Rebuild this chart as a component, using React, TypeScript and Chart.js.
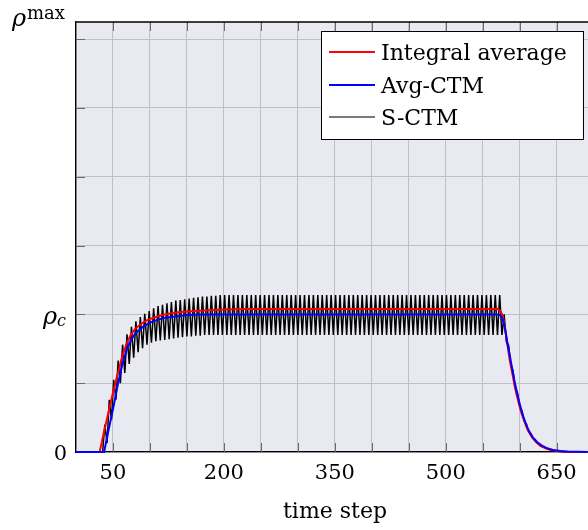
import React, { useEffect, useRef } from 'react';
import { Chart, registerables } from 'chart.js';

Chart.register(...registerables);

// ---- axis settings ----
const X_MIN = 0;
const X_MAX = 692.4;
const Y_MIN = 0;
const Y_MAX = 6.25; // rho^max
const RHO_C = 2;
const xGridValues = [0, 50, 100, 150, 200, 250, 300, 350, 400, 450, 500, 550, 600, 650];
const xTickLabels = [50, 200, 350, 500, 650];
const yGridValues = [0, 1, 2, 3, 4, 5, 6];

// ---- Integral average (red) ----
const avgTimes = [0, 32, 38, 44, 50, 56, 61, 65, 69, 74, 80, 88, 95, 102, 110, 120, 130, 145, 160, 180, 200, 230, 570, 573, 575, 577.5, 580, 582, 584, 586.5, 589, 591, 593, 595.5, 598, 600, 602, 604.5, 607, 609, 611, 613.5, 617, 622.5, 628, 636, 643, 650, 660, 675, 692];
const avgValues = [0, 0, 0.3, 0.58, 0.86, 1.12, 1.33, 1.47, 1.59, 1.7, 1.79, 1.86, 1.91, 1.94, 1.97, 2.0, 2.02, 2.04, 2.05, 2.06, 2.07, 2.08, 2.08, 2.06, 2.03, 1.96, 1.82, 1.66, 1.52, 1.34, 1.2, 1.09, 0.97, 0.85, 0.74, 0.66, 0.58, 0.5, 0.43, 0.37, 0.32, 0.27, 0.21, 0.14, 0.09, 0.05, 0.03, 0.015, 0.005, 0, 0];

// ---- Avg-CTM (blue) ----
const ctmTimes = [0, 38, 44, 50, 56, 60, 64, 69, 74, 80, 86, 92, 100, 110, 120, 135, 150, 170, 570, 573, 575, 578, 580, 582, 584, 587, 590, 593, 596, 599, 602, 605, 608, 611, 614, 618, 623, 629, 636, 645, 655, 665, 680, 692];
const ctmValues = [0, 0, 0.32, 0.62, 0.95, 1.15, 1.33, 1.5, 1.62, 1.72, 1.78, 1.83, 1.88, 1.92, 1.95, 1.97, 1.99, 2.0, 2.0, 1.99, 1.97, 1.9, 1.8, 1.68, 1.55, 1.38, 1.2, 1.03, 0.88, 0.74, 0.62, 0.51, 0.42, 0.34, 0.28, 0.21, 0.15, 0.1, 0.06, 0.03, 0.015, 0.007, 0.002, 0];

// ---- S-CTM (black), sampled every 3 time steps from t = 0 ----
const sctmStart = 0;
const sctmStep = 3;
const sctmValues = [
  0, 0, 0, 0, 0, 0, 0, 0, 0, 0, 0, 0, 0,
  0.40, 0.13, 0.76, 0.47, 1.05, 0.76, 1.33, 1.00, 1.56, 1.15, 1.71, 1.28, 1.82, 1.37,
  1.90, 1.45, 1.96, 1.51, 2.01, 1.56, 2.05, 1.59, 2.09, 1.61, 2.12, 1.62, 2.14, 1.63,
  2.16, 1.64, 2.18, 1.65, 2.20, 1.66, 2.21, 1.67, 2.22, 1.68, 2.23, 1.68, 2.24, 1.69,
  2.25, 1.69, 2.26, 1.70, 2.26, 1.70, 2.27, 1.70, 2.27, 1.70,
  2.28, 1.70, 2.28, 1.70, 2.28, 1.70, 2.28, 1.70, 2.28, 1.70, 2.28, 1.70, 2.28, 1.70, 2.28, 1.70,
  2.28, 1.70, 2.28, 1.70, 2.28, 1.70, 2.28, 1.70, 2.28, 1.70, 2.28, 1.70, 2.28, 1.70, 2.28, 1.70,
  2.28, 1.70, 2.28, 1.70, 2.28, 1.70, 2.28, 1.70, 2.28, 1.70, 2.28, 1.70, 2.28, 1.70, 2.28, 1.70,
  2.28, 1.70, 2.28, 1.70, 2.28, 1.70, 2.28, 1.70, 2.28, 1.70, 2.28, 1.70, 2.28, 1.70, 2.28, 1.70,
  2.28, 1.70, 2.28, 1.70, 2.28, 1.70, 2.28, 1.70, 2.28, 1.70, 2.28, 1.70, 2.28, 1.70, 2.28, 1.70,
  2.28, 1.70, 2.28, 1.70, 2.28, 1.70, 2.28, 1.70, 2.28, 1.70, 2.28, 1.70, 2.28, 1.70, 2.28, 1.70,
  2.28, 1.70, 2.28, 1.70, 2.28, 1.70, 2.28, 1.70, 2.28, 1.70, 2.28, 1.70, 2.28, 1.70, 2.28, 1.70,
  2.28, 1.70, 2.28, 1.70, 2.28, 1.70, 2.28, 1.70, 2.28, 1.70, 2.28, 1.70, 2.28, 1.70, 2.28, 1.70,
  2.00, 1.60, 1.55, 1.26, 1.18, 0.93, 0.86, 0.66, 0.60, 0.45, 0.41, 0.30, 0.27, 0.20, 0.18,
  0.13, 0.11, 0.08, 0.07, 0.05, 0.04, 0.03, 0.025, 0.02, 0.015, 0.01, 0.008, 0.005, 0.003,
  0, 0, 0, 0, 0, 0, 0, 0, 0,
];

const seriesLabels = ['Integral average', 'Avg-CTM', 'S-CTM'];
const seriesColors = ['#ff0000', '#0000ff', '#000000'];
const legendColors = ['#ff0000', '#0000ff', '#7a7a7a'];

const SERIF = "'DejaVu Serif', serif";

const decorPlugin = {
  id: 'decor',
  beforeDraw(chart: any) {
    const { ctx, chartArea } = chart;
    ctx.save();
    ctx.fillStyle = '#ffffff';
    ctx.fillRect(0, 0, chart.width, chart.height);
    ctx.fillStyle = 'rgb(233,233,242)';
    ctx.fillRect(chartArea.left, chartArea.top, chartArea.right - chartArea.left, chartArea.bottom - chartArea.top);
    ctx.restore();
  },
  beforeDatasetsDraw(chart: any) {
    const { ctx, chartArea, scales } = chart;
    const xs = scales.x, ys = scales.y;
    ctx.save();
    ctx.strokeStyle = 'rgb(105,105,105)';
    ctx.lineWidth = 1;
    const TL = 9;
    xGridValues.forEach((v) => {
      const px = Math.round(xs.getPixelForValue(v)) + 0.5;
      if (v === 0) return;
      ctx.beginPath();
      ctx.moveTo(px, chartArea.top);
      ctx.lineTo(px, chartArea.top + TL);
      ctx.moveTo(px, chartArea.bottom);
      ctx.lineTo(px, chartArea.bottom - TL);
      ctx.stroke();
    });
    yGridValues.forEach((v) => {
      if (v === 0) return;
      const py = Math.round(ys.getPixelForValue(v)) + 0.5;
      ctx.beginPath();
      ctx.moveTo(chartArea.left, py);
      ctx.lineTo(chartArea.left + TL, py);
      ctx.stroke();
    });
    // top border
    ctx.strokeStyle = '#000';
    ctx.lineWidth = 1.3;
    ctx.beginPath();
    ctx.moveTo(chartArea.left, chartArea.top);
    ctx.lineTo(chartArea.right, chartArea.top);
    ctx.stroke();
    ctx.restore();
  },
  afterDraw(chart: any) {
    const { ctx, chartArea, scales } = chart;
    const xs = scales.x, ys = scales.y;
    ctx.save();
    ctx.fillStyle = '#000';
    // x tick labels
    ctx.font = `21px ${SERIF}`;
    ctx.textAlign = 'center';
    ctx.textBaseline = 'alphabetic';
    xTickLabels.forEach((v) => {
      ctx.fillText(String(v), xs.getPixelForValue(v), chartArea.bottom + 27);
    });
    // x title
    ctx.font = `22px ${SERIF}`;
    ctx.fillText('time step', (chartArea.left + chartArea.right) / 2 + 3, 518);
    // y labels
    ctx.textAlign = 'right';
    ctx.font = `21px ${SERIF}`;
    ctx.fillText('0', chartArea.left - 9, ys.getPixelForValue(0) + 8);
    ctx.textAlign = 'left';
    const yc = ys.getPixelForValue(RHO_C);
    ctx.font = `italic 24px ${SERIF}`;
    ctx.fillText('ρ', chartArea.left - 33, yc + 10);
    ctx.font = `italic 16px ${SERIF}`;
    ctx.fillText('c', chartArea.left - 19, yc + 12);
    const ym = ys.getPixelForValue(Y_MAX);
    ctx.font = `italic 24px ${SERIF}`;
    ctx.fillText('ρ', chartArea.left - 64, ym + 4);
    ctx.font = `18px ${SERIF}`;
    ctx.fillText('max', chartArea.left - 49, ym - 3);

    // legend
    const bx = 321.5, by = 31.5, bw = 262, bh = 108;
    ctx.fillStyle = '#fff';
    ctx.fillRect(bx, by, bw, bh);
    ctx.strokeStyle = '#000';
    ctx.lineWidth = 1;
    ctx.strokeRect(bx, by, bw, bh);
    const rows = [52, 85, 117];
    chart.data.datasets.forEach((ds: any, i: number) => {
      const y = rows[i];
      ctx.strokeStyle = legendColors[i];
      ctx.lineWidth = 2;
      ctx.beginPath();
      ctx.moveTo(329, y);
      ctx.lineTo(375, y);
      ctx.stroke();
      ctx.fillStyle = '#000';
      ctx.font = `22px ${SERIF}`;
      ctx.textAlign = 'left';
      ctx.fillText(ds.label, 381, y + 8);
    });
    ctx.restore();
  },
};

export default function App() {
  const canvasRef = useRef<HTMLCanvasElement | null>(null);

  useEffect(() => {
    if (!canvasRef.current) return;
    const avgData = avgTimes.map((t, i) => ({ x: t, y: avgValues[i] }));
    const ctmData = ctmTimes.map((t, i) => ({ x: t, y: ctmValues[i] }));
    const sctmData = sctmValues.map((v, i) => ({ x: sctmStart + i * sctmStep, y: v }));

    const chart = new Chart(canvasRef.current, {
      type: 'line',
      data: {
        datasets: [
          { label: seriesLabels[0], data: avgData, borderColor: seriesColors[0], borderWidth: 2, pointRadius: 0, tension: 0, order: 2, clip: 4 } as any,
          { label: seriesLabels[1], data: ctmData, borderColor: seriesColors[1], borderWidth: 2, pointRadius: 0, tension: 0, order: 1, clip: 4 } as any,
          { label: seriesLabels[2], data: sctmData, borderColor: seriesColors[2], borderWidth: 1.5, pointRadius: 0, tension: 0, order: 3, clip: 4 } as any,
        ],
      },
      options: {
        animation: false,
        responsive: false,
        maintainAspectRatio: false,
        parsing: false as any,
        normalized: true,
        layout: { padding: { left: 76, top: 22, right: 0, bottom: 78 } },
        plugins: { legend: { display: false }, tooltip: { enabled: false }, title: { display: false } },
        events: [],
        scales: {
          x: {
            type: 'linear',
            min: X_MIN,
            max: X_MAX,
            afterBuildTicks: (scale: any) => { scale.ticks = xGridValues.map((v) => ({ value: v })); },
            ticks: { display: false },
            grid: { color: 'rgb(192,192,196)', lineWidth: 1, drawTicks: false },
            border: { display: true, color: '#000', width: 1.3 },
          },
          y: {
            type: 'linear',
            min: Y_MIN,
            max: Y_MAX,
            afterBuildTicks: (scale: any) => { scale.ticks = yGridValues.map((v) => ({ value: v })); },
            ticks: { display: false },
            grid: { color: 'rgb(192,192,196)', lineWidth: 1, drawTicks: false },
            border: { display: true, color: '#000', width: 1.3 },
          },
        },
      },
      plugins: [decorPlugin],
    });
    return () => chart.destroy();
  }, []);

  return (
    <div style={{ position: 'absolute', left: 0, top: 0, width: 588, height: 530, background: '#fff' }}>
      <canvas ref={canvasRef} width={588} height={530} style={{ display: 'block' }} />
    </div>
  );
}
